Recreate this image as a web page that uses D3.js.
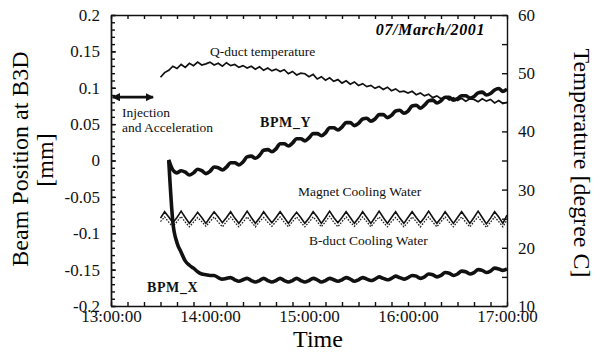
<!DOCTYPE html>
<meta charset="utf-8">
<title>Beam position at B3D</title>
<body>
<script src="https://cdn.jsdelivr.net/npm/d3@7"></script>
<style>
html, body {
    margin: 0;
    background: #fff;
}

svg {
    display: block;
    font-family: "Liberation Serif", "Times New Roman", serif;
}

.axis path, .axis line {
    stroke: #111;
    stroke-width: 1.4;
}

.axis text {
    font-family: "Liberation Serif", serif;
    font-size: 17px;
    fill: #111;
}

.note {
    font-size: 13.5px;
    fill: #111;
}

.tag {
    font-size: 14px;
    font-weight: bold;
    fill: #111;
    letter-spacing: 0.6px;
}
</style>

<script>
// sample times, minutes after 13:00:00
var minutes = d3.range(30, 240.1, 2.5);

var hourLabels = ["13:00:00", "14:00:00", "15:00:00", "16:00:00", "17:00:00"];
var leftTicks = [-0.2, -0.15, -0.1, -0.05, 0, 0.05, 0.1, 0.15, 0.2];
var rightTicks = [10, 20, 30, 40, 50, 60];

// beam position [mm], left axis
var bpmX = [null, null, 0.0, -0.085, -0.113, -0.126, -0.138, -0.144, -0.148, -0.153,
    -0.156, -0.157, -0.158, -0.158, -0.161, -0.163, -0.162, -0.161, -0.164, -0.166,
    -0.164, -0.162, -0.165, -0.167, -0.165, -0.162, -0.165, -0.167, -0.165, -0.162,
    -0.165, -0.167, -0.165, -0.162, -0.165, -0.167, -0.165, -0.162, -0.164, -0.167,
    -0.165, -0.162, -0.164, -0.166, -0.164, -0.161, -0.163, -0.166, -0.164, -0.161,
    -0.163, -0.165, -0.163, -0.160, -0.162, -0.164, -0.162, -0.159, -0.161, -0.163,
    -0.161, -0.158, -0.159, -0.162, -0.160, -0.156, -0.157, -0.160, -0.158, -0.154,
    -0.155, -0.158, -0.156, -0.152, -0.153, -0.156, -0.154, -0.150, -0.151, -0.154,
    -0.152, -0.148, -0.149, -0.151, -0.149];

var bpmY = [null, null, 0.001, -0.013, -0.017, -0.014, -0.016, -0.020, -0.017, -0.012,
    -0.014, -0.018, -0.015, -0.009, -0.010, -0.013, -0.009, -0.003, -0.003, -0.006,
    -0.002, 0.005, 0.006, 0.003, 0.007, 0.014, 0.015, 0.012, 0.016, 0.023,
    0.023, 0.020, 0.024, 0.030, 0.030, 0.027, 0.031, 0.037, 0.037, 0.034,
    0.038, 0.045, 0.045, 0.042, 0.046, 0.052, 0.052, 0.048, 0.051, 0.057,
    0.058, 0.054, 0.057, 0.063, 0.063, 0.059, 0.062, 0.068, 0.069, 0.065,
    0.068, 0.075, 0.076, 0.072, 0.076, 0.082, 0.083, 0.079, 0.082, 0.087,
    0.087, 0.083, 0.085, 0.089, 0.089, 0.086, 0.088, 0.093, 0.094, 0.090,
    0.092, 0.097, 0.099, 0.095, 0.098];

// temperatures [degree C], right axis
var qDuct = [49.3, 50.1, 50.5, 51.2, 50.8, 51.5, 51.0, 51.7, 51.3, 51.9,
    51.4, 51.6, 51.9, 51.4, 51.7, 51.2, 51.8, 51.3, 51.5, 51.0,
    51.3, 50.9, 51.2, 50.7, 51.1, 50.5, 50.9, 50.4, 50.7, 50.3,
    50.6, 49.9, 50.3, 49.7, 50.0, 49.9, 49.4, 49.8, 49.0, 49.4,
    48.8, 49.2, 48.6, 48.9, 48.3, 48.7, 48.1, 48.5, 47.9, 48.2,
    47.7, 47.9, 47.4, 47.7, 47.2, 47.6, 47.0, 47.3, 46.8, 46.9,
    46.6, 46.9, 46.3, 46.6, 46.1, 46.4, 45.8, 46.1, 45.6, 45.9,
    45.4, 45.8, 45.3, 45.7, 45.2, 45.6, 45.5, 45.1, 45.6, 45.2,
    45.5, 44.9, 45.3, 44.8, 45.0];

var magnetWater = [25.1, 26.2, 25.3, 24.3, 25.2, 26.3, 25.2, 24.2, 25.1, 26.1,
    25.2, 24.2, 25.2, 26.2, 25.3, 24.3, 25.2, 26.2, 25.1, 24.2,
    25.2, 26.3, 25.2, 24.2, 25.1, 26.2, 25.2, 24.3, 25.2, 26.2,
    25.2, 24.2, 25.2, 26.1, 25.2, 24.2, 25.1, 26.2, 25.3, 24.2,
    25.2, 26.3, 25.2, 24.3, 25.2, 26.2, 25.2, 24.2, 25.1, 26.2,
    25.2, 24.2, 25.2, 26.3, 25.2, 24.2, 25.2, 26.2, 25.1, 24.2,
    25.2, 26.2, 25.2, 24.3, 25.2, 26.3, 25.2, 24.2, 25.1, 26.2,
    25.2, 24.2, 25.2, 26.2, 25.2, 24.2, 25.2, 26.3, 25.2, 24.1,
    25.1, 26.2, 25.3, 24.2, 25.6];

var bductWater = [24.5, 25.3, 24.4, 23.6, 24.5, 25.4, 24.4, 23.6, 24.4, 25.2,
    24.5, 23.7, 24.5, 25.3, 24.4, 23.6, 24.5, 25.3, 24.4, 23.6,
    24.4, 25.3, 24.5, 23.6, 24.5, 25.2, 24.4, 23.7, 24.5, 25.3,
    24.4, 23.6, 24.5, 25.3, 24.4, 23.6, 24.4, 25.3, 24.5, 23.6,
    24.5, 25.4, 24.4, 23.6, 24.5, 25.3, 24.4, 23.7, 24.4, 25.3,
    24.5, 23.6, 24.5, 25.3, 24.4, 23.6, 24.5, 25.2, 24.4, 23.6,
    24.4, 25.3, 24.5, 23.6, 24.5, 25.3, 24.4, 23.6, 24.5, 25.3,
    24.4, 23.6, 24.5, 25.3, 24.4, 23.6, 24.5, 25.3, 24.4, 23.5,
    24.4, 25.3, 24.5, 23.6, 24.8];

var width = 602,
    height = 359,
    plotLeft = 111,
    plotRight = 507,
    plotTop = 15,
    plotBottom = 306;

var svg = d3.select("body").append("svg")
    .attr("width", width)
    .attr("height", height)
    .style("background", "#fff");

var x = d3.scaleLinear().domain([0, 240]).range([plotLeft, plotRight]);
var yL = d3.scaleLinear().domain([-0.2, 0.2]).range([plotBottom, plotTop]);
var yR = d3.scaleLinear().domain([10, 60]).range([plotBottom, plotTop]);

// axes, ticks pointing into the plot
var tenMin = d3.range(0, 241, 10);

svg.append("g").attr("class", "axis")
    .attr("transform", "translate(0," + plotBottom + ")")
    .call(d3.axisBottom(x).tickValues(tenMin).tickSizeInner(-4).tickSizeOuter(0).tickPadding(4)
        .tickFormat(function(d) { return d % 60 === 0 ? hourLabels[d / 60] : ""; }));

svg.append("g").attr("class", "axis")
    .attr("transform", "translate(0," + plotTop + ")")
    .call(d3.axisTop(x).tickValues(tenMin).tickSizeInner(-4).tickSizeOuter(0).tickFormat(""));

svg.append("g").attr("class", "axis")
    .attr("transform", "translate(" + plotLeft + ",0)")
    .call(d3.axisLeft(yL).tickValues(d3.range(-20, 21).map(function(k) { return k / 100; }))
        .tickSizeInner(-4).tickSizeOuter(0).tickFormat(""));

svg.append("g").attr("class", "axis")
    .attr("transform", "translate(" + plotLeft + ",0)")
    .call(d3.axisLeft(yL).tickValues(leftTicks).tickSizeInner(-5).tickSizeOuter(0).tickPadding(11)
        .tickFormat(function(d) { return String(+d.toFixed(2)); }));

svg.append("g").attr("class", "axis")
    .attr("transform", "translate(" + plotRight + ",0)")
    .call(d3.axisRight(yR).tickValues(d3.range(10, 61, 5)).tickSizeInner(-5).tickSizeOuter(0).tickPadding(11)
        .tickFormat(function(d) { return rightTicks.indexOf(d) >= 0 ? d : ""; }));

// series
function series(values, scale, curve) {
    return d3.line()
        .defined(function(d) { return d[1] != null; })
        .x(function(d) { return x(d[0]); })
        .y(function(d) { return scale(d[1]); })
        .curve(curve)(d3.zip(minutes, values));
}

svg.append("path")
    .attr("d", series(bductWater, yR, d3.curveLinear))
    .attr("fill", "none").attr("stroke", "#222").attr("stroke-width", 1.3)
    .attr("stroke-dasharray", "1.6,1.4");

svg.append("path")
    .attr("d", series(magnetWater, yR, d3.curveLinear))
    .attr("fill", "none").attr("stroke", "#111").attr("stroke-width", 1.6);

svg.append("path")
    .attr("d", series(qDuct, yR, d3.curveLinear))
    .attr("fill", "none").attr("stroke", "#111").attr("stroke-width", 1.7);

svg.append("path")
    .attr("d", series(bpmY, yL, d3.curveMonotoneX))
    .attr("fill", "none").attr("stroke", "#111").attr("stroke-width", 3.6);

svg.append("path")
    .attr("d", series(bpmX, yL, d3.curveMonotoneX))
    .attr("fill", "none").attr("stroke", "#111").attr("stroke-width", 3.6);

// injection arrow
var defs = svg.append("defs");
["start", "end"].forEach(function(id) {
    defs.append("marker")
        .attr("id", "arrow-" + id)
        .attr("viewBox", "0 0 10 10")
        .attr("refX", 9).attr("refY", 5)
        .attr("markerWidth", 3).attr("markerHeight", 3)
        .attr("orient", id === "start" ? "auto-start-reverse" : "auto")
        .append("path")
        .attr("d", "M0,0L10,5L0,10Z")
        .attr("fill", "#111");
});

svg.append("line")
    .attr("x1", x(1)).attr("x2", x(25.5))
    .attr("y1", yL(0.087)).attr("y2", yL(0.087))
    .attr("stroke", "#111").attr("stroke-width", 2.8)
    .attr("marker-start", "url(#arrow-start)")
    .attr("marker-end", "url(#arrow-end)");

// annotations
svg.append("text").attr("class", "note").attr("x", 122).attr("y", 117).text("Injection");
svg.append("text").attr("class", "note").attr("x", 122).attr("y", 132).text("and Acceleration");
svg.append("text").attr("class", "note").attr("x", 210).attr("y", 56).text("Q-duct temperature");
svg.append("text").attr("class", "note").attr("x", 298).attr("y", 196).text("Magnet Cooling Water");
svg.append("text").attr("class", "note").attr("x", 309).attr("y", 245).text("B-duct Cooling Water");
svg.append("text").attr("class", "tag").attr("x", 260).attr("y", 127).text("BPM_Y");
svg.append("text").attr("class", "tag").attr("x", 147).attr("y", 292).text("BPM_X");

svg.append("text")
    .attr("x", 485).attr("y", 35)
    .attr("text-anchor", "end")
    .style("font-size", "16px").style("font-weight", "bold").style("font-style", "italic")
    .style("letter-spacing", "0.6px")
    .text("07/March/2001");

// axis titles
svg.append("text")
    .attr("transform", "translate(28,159) rotate(-90)")
    .attr("text-anchor", "middle")
    .style("font-size", "24px")
    .text("Beam Position at B3D");

svg.append("text")
    .attr("transform", "translate(53,160) rotate(-90)")
    .attr("text-anchor", "middle")
    .style("font-size", "24px")
    .text("[mm]");

svg.append("text")
    .attr("transform", "translate(574,163) rotate(90)")
    .attr("text-anchor", "middle")
    .style("font-size", "24px")
    .text("Temperature [degree C]");

svg.append("text")
    .attr("x", 318).attr("y", 347)
    .attr("text-anchor", "middle")
    .style("font-size", "24px")
    .text("Time");
</script>
